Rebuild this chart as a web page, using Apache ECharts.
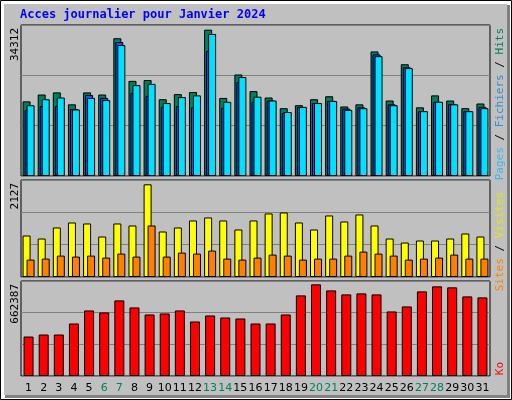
<!DOCTYPE html>
<html>
<head>
<meta charset="utf-8">
<script src="https://cdn.jsdelivr.net/npm/echarts@6/dist/echarts.min.js"></script>
<style>
  html, body { margin: 0; padding: 0; background: #fff; }
  #chart { width: 512px; height: 400px; }
</style>
</head>
<body>
<div id="chart"></div>
<script>
const days = ['1','2','3','4','5','6','7','8','9','10','11','12','13','14','15','16','17','18','19','20','21','22','23','24','25','26','27','28','29','30','31']
const weekend = ['6','7','13','14','20','21','27','28']

const hits = [17500, 19100, 19600, 16800, 19600, 19100, 32300, 22300, 22500, 18000, 19200, 19700, 34312, 18300, 23800, 19900, 18400, 15900, 16600, 18000, 18700, 16300, 16800, 29200, 17700, 26200, 16100, 18900, 17700, 15900, 17000]
const files = [15500, 16400, 16400, 15700, 19000, 18300, 31400, 19500, 18800, 16200, 16400, 16100, 29300, 16000, 22000, 17400, 17700, 14800, 16200, 17100, 17600, 15800, 16100, 28500, 16800, 25500, 15200, 17400, 16900, 15200, 16200]
const pages = [16600, 18000, 18400, 15600, 18300, 17800, 30700, 21300, 21600, 17100, 18500, 18900, 33300, 17400, 23200, 18600, 17700, 15000, 16200, 17100, 17600, 15500, 15900, 28100, 16600, 25300, 15200, 17400, 16800, 15200, 15900]

const visits = [952, 883, 1136, 1251, 1228, 929, 1228, 1182, 2127, 1044, 1136, 1297, 1366, 1297, 1090, 1297, 1458, 1481, 1251, 1090, 1412, 1274, 1435, 1182, 883, 791, 837, 837, 883, 998, 929]
const sites = [399, 422, 491, 468, 491, 445, 537, 468, 1182, 468, 560, 537, 606, 422, 399, 445, 514, 491, 399, 422, 422, 491, 583, 537, 491, 399, 422, 445, 514, 422, 422]

const ko = [285206, 299708, 299708, 379469, 473732, 459230, 546242, 495485, 444728, 451979, 473732, 393971, 437477, 422975, 415724, 379469, 379469, 444728, 582497, 662387, 618752, 589748, 596999, 589748, 466481, 502736, 611501, 647756, 640505, 575246, 567995]

const maxLabels = ['34312', '2127', '662387']

const chart = echarts.init(document.getElementById('chart'))

const grids = [
  { left: 21, right: 22, top: 25, height: 151 },
  { left: 21, right: 22, top: 180, height: 97 },
  { left: 21, right: 22, top: 281, height: 95 }
]

const gridBase = { show: true, backgroundColor: '#c0c0c0', borderColor: '#000', borderWidth: 1 }

const xAxisFor = (i) => ({
  type: 'category',
  gridIndex: i,
  data: days,
  axisLine: { show: false },
  axisTick: { show: false },
  axisLabel: i === 2 ? {
    show: true,
    margin: 7,
    fontFamily: 'DejaVu Sans',
    fontSize: 11,
    interval: 0,
    color: (v) => weekend.includes(v) ? '#008060' : '#000'
  } : { show: false }
})

const yAxisFor = (i, max) => ({
  type: 'value',
  gridIndex: i,
  min: 0,
  max: max,
  interval: max / 3,
  axisLabel: { show: false },
  axisLine: { show: false },
  axisTick: { show: false },
  splitLine: { lineStyle: { color: '#808080', width: 1 } }
})

const barStyle = (color) => ({ color: color, borderColor: '#000', borderWidth: 1 })

const rotText = (x, y, rich, text) => ({
  type: 'text',
  x: x,
  y: y,
  rotation: Math.PI / 2,
  style: {
    text: text,
    rich: rich,
    fontFamily: 'DejaVu Sans Mono',
    fontSize: 11,
    align: 'right',
    verticalAlign: 'middle'
  }
})

const option = {
  animation: false,
  backgroundColor: '#fff',
  grid: grids.map(g => Object.assign({}, gridBase, g)),
  xAxis: [xAxisFor(0), xAxisFor(1), xAxisFor(2)],
  yAxis: [yAxisFor(0, 35400), yAxisFor(1, 2226), yAxisFor(2, 686562)],
  series: [
    { name: 'Hits', type: 'bar', xAxisIndex: 0, yAxisIndex: 0, data: hits, barWidth: 8, barGap: '-75%', itemStyle: barStyle('#007f5f') },
    { name: 'Fichiers', type: 'bar', xAxisIndex: 0, yAxisIndex: 0, data: files, barWidth: 8, barGap: '-75%', itemStyle: barStyle('#1f4fff') },
    { name: 'Pages', type: 'bar', xAxisIndex: 0, yAxisIndex: 0, data: pages, barWidth: 8, barGap: '-75%', itemStyle: barStyle('#00e1ff') },
    { name: 'Visites', type: 'bar', xAxisIndex: 1, yAxisIndex: 1, data: visits, barWidth: 8, barGap: '-50%', itemStyle: barStyle('#ffff00') },
    { name: 'Sites', type: 'bar', xAxisIndex: 1, yAxisIndex: 1, data: sites, barWidth: 8, barGap: '-50%', itemStyle: barStyle('#ff8000') },
    { name: 'Ko', type: 'bar', xAxisIndex: 2, yAxisIndex: 2, data: ko, barWidth: 10, itemStyle: barStyle('#ff0000') }
  ],
  graphic: [
    // frame
    { type: 'rect', z: -10, shape: { x: 0.5, y: 0.5, width: 511, height: 399 }, style: { fill: '#fff', stroke: '#000', lineWidth: 1 } },
    { type: 'rect', z: -9, shape: { x: 5, y: 5, width: 505, height: 393 }, style: { fill: '#808080' } },
    { type: 'rect', z: -8, shape: { x: 4, y: 4, width: 503, height: 391 }, style: { fill: '#c0c0c0' } },
    {
      type: 'text', x: 20, y: 15,
      style: { text: 'Acces journalier pour Janvier 2024', fill: '#0000ff', fontFamily: 'DejaVu Sans Mono', fontWeight: 'bold', fontSize: 12, verticalAlign: 'middle' }
    },
    rotText(15, 28, {}, maxLabels[0]),
    rotText(15, 183, {}, maxLabels[1]),
    rotText(15, 284, {}, maxLabels[2]),
    rotText(500, 28, {
      p: { fill: '#33bbee', fontFamily: 'DejaVu Sans Mono', fontSize: 11 },
      f: { fill: '#2f8fd0', fontFamily: 'DejaVu Sans Mono', fontSize: 11 },
      h: { fill: '#008060', fontFamily: 'DejaVu Sans Mono', fontSize: 11 },
      s: { fill: '#000', fontFamily: 'DejaVu Sans Mono', fontSize: 11 }
    }, '{p|Pages}{s| / }{f|Fichiers}{s| / }{h|Hits}'),
    rotText(500, 192, {
      a: { fill: '#ff8000', fontFamily: 'DejaVu Sans Mono', fontSize: 11 },
      v: { fill: '#e8e800', fontFamily: 'DejaVu Sans Mono', fontSize: 11 },
      s: { fill: '#000', fontFamily: 'DejaVu Sans Mono', fontSize: 11 }
    }, '{a|Sites}{s| / }{v|Visites}'),
    rotText(500, 362, {
      k: { fill: '#ff0000', fontFamily: 'DejaVu Sans Mono', fontSize: 11 }
    }, '{k|Ko}')
  ]
}

chart.setOption(option)
</script>
</body>
</html>
